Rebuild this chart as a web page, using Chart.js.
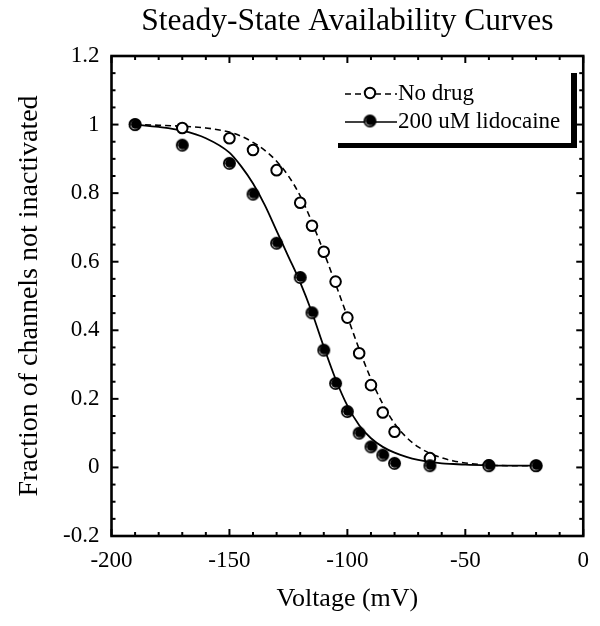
<!DOCTYPE html>
<html>
<head>
<meta charset="utf-8">
<title>Steady-State Availability Curves</title>
<script src="https://cdn.jsdelivr.net/npm/chart.js@4.4.1/dist/chart.umd.min.js"></script>
<style>
  html, body { margin: 0; padding: 0; background: #fff; }
  #wrap { width: 600px; height: 626px; }
</style>
</head>
<body>
<div id="wrap"><canvas id="availChart" width="600" height="626"></canvas></div>
<script>
// measured points (voltage in mV)
const pointVoltages = [-190, -170, -150, -140, -130, -120, -115, -110, -105, -100, -95, -90, -85, -80, -65, -40, -20];
const noDrugValues = [1.0, 0.99, 0.96, 0.926, 0.867, 0.772, 0.705, 0.629, 0.542, 0.437, 0.333, 0.24, 0.16, 0.104, 0.027, 0.006, 0.005];
const lidocaineValues = [1.0, 0.94, 0.887, 0.797, 0.654, 0.554, 0.451, 0.342, 0.245, 0.163, 0.1, 0.06, 0.036, 0.012, 0.005, 0.005, 0.005];

// fitted curves
const fitVoltages = [-190, -180, -170, -160, -150, -145, -140, -135, -130, -125, -120, -115, -110, -105, -100, -95, -90, -85, -80, -75, -70, -65, -60, -55, -50, -40, -30, -20];
const noDrugFit = [1.0, 0.998, 0.995, 0.99, 0.978, 0.966, 0.948, 0.925, 0.893, 0.85, 0.792, 0.715, 0.628, 0.535, 0.44, 0.345, 0.258, 0.185, 0.128, 0.088, 0.06, 0.041, 0.028, 0.019, 0.013, 0.007, 0.005, 0.005];
const lidocaineFit = [1.0, 0.993, 0.982, 0.96, 0.918, 0.878, 0.828, 0.765, 0.69, 0.615, 0.54, 0.452, 0.352, 0.258, 0.18, 0.123, 0.085, 0.06, 0.043, 0.031, 0.022, 0.016, 0.012, 0.01, 0.008, 0.006, 0.005, 0.005];

const xTickLabels = ["-200", "-150", "-100", "-50", "0"];
const yTickLabels = ["-0.2", "0", "0.2", "0.4", "0.6", "0.8", "1", "1.2"];
const seriesLabels = ["No drug", "200 uM lidocaine"];
const chartTitle = "Steady-State Availability Curves";

const serif = "'Liberation Serif', 'Times New Roman', serif";

function toXY(xs, ys) {
  return xs.map((v, i) => ({ x: v, y: ys[i] }));
}

// black "ball" marker with a thin white crescent
function makeBallMarker() {
  const c = document.createElement("canvas");
  c.width = 15;
  c.height = 15;
  const g = c.getContext("2d");
  g.fillStyle = "#000";
  g.beginPath(); g.arc(7.5, 7.5, 6.5, 0, Math.PI * 2); g.fill();
  g.fillStyle = "#fff";
  g.beginPath(); g.arc(7.1, 7.9, 4.3, 0, Math.PI * 2); g.fill();
  g.fillStyle = "#000";
  g.beginPath(); g.arc(7.8, 7.2, 4.6, 0, Math.PI * 2); g.fill();
  return c;
}
const ballMarker = makeBallMarker();

function strokeLine(ctx, x1, y1, x2, y2) {
  ctx.beginPath();
  ctx.moveTo(x1, y1);
  ctx.lineTo(x2, y2);
  ctx.stroke();
}

const frameAndLegend = {
  id: "frameAndLegend",
  afterDatasetsDraw(chart) {
    const { ctx, chartArea: a, scales } = chart;
    const xs = scales.x;
    const ys = scales.y;
    ctx.save();
    ctx.strokeStyle = "#000";
    ctx.lineWidth = 2;

    // ticks on all four sides, pointing inwards
    for (let i = 0; i <= 20; i++) {
      const px = xs.getPixelForValue(xs.min + i * 10);
      const len = i % 5 === 0 ? 7 : 4;
      strokeLine(ctx, px, a.bottom, px, a.bottom - len);
      strokeLine(ctx, px, a.top, px, a.top + len);
    }
    for (let i = 0; i <= 28; i++) {
      const py = ys.getPixelForValue(ys.min + i * 0.05);
      const len = i % 4 === 0 ? 7 : 4;
      strokeLine(ctx, a.left, py, a.left + len, py);
      strokeLine(ctx, a.right, py, a.right - len, py);
    }
    ctx.lineWidth = 2.6;
    ctx.strokeRect(a.left, a.top, a.right - a.left, a.bottom - a.top);

    // title, centred over the plot
    ctx.fillStyle = "#000";
    ctx.font = "31.5px " + serif;
    ctx.textAlign = "center";
    ctx.textBaseline = "middle";
    ctx.fillText(chartTitle, (a.left + a.right) / 2, 22);

    // legend box with drop shadow
    const bx = 332, by = 68, bw = 239, bh = 75;
    ctx.fillStyle = "#000";
    ctx.fillRect(bx + 6, by + 5, bw, bh);
    ctx.fillStyle = "#fff";
    ctx.fillRect(bx, by, bw, bh);

    const rows = [94, 122];
    ctx.font = "23px " + serif;
    ctx.textBaseline = "middle";
    ctx.textAlign = "left";
    rows.forEach((ry, i) => {
      ctx.strokeStyle = "#000";
      ctx.lineWidth = 1.6;
      ctx.setLineDash(i === 0 ? [6, 4] : []);
      strokeLine(ctx, 345, ry, 397, ry);
      ctx.setLineDash([]);
      if (i === 0) {
        ctx.fillStyle = "#fff";
        ctx.lineWidth = 2;
        ctx.beginPath(); ctx.arc(370, ry - 1, 5.2, 0, Math.PI * 2); ctx.fill(); ctx.stroke();
      } else {
        ctx.drawImage(ballMarker, 370 - 7.5, ry - 8.5);
      }
      ctx.fillStyle = "#000";
      ctx.fillText(seriesLabels[i], 398, ry);
    });
    ctx.restore();
  }
};

new Chart(document.getElementById("availChart"), {
  type: "line",
  data: {
    datasets: [
      {
        label: seriesLabels[1],
        data: toXY(pointVoltages, lidocaineValues),
        showLine: false,
        pointStyle: ballMarker,
        pointRadius: 7,
        order: 0
      },
      {
        label: seriesLabels[0],
        data: toXY(pointVoltages, noDrugValues),
        showLine: false,
        pointStyle: "circle",
        pointRadius: 5.3,
        pointBorderWidth: 2,
        pointBorderColor: "#000",
        pointBackgroundColor: "#fff",
        order: 1
      },
      {
        label: seriesLabels[1] + " fit",
        data: toXY(fitVoltages, lidocaineFit),
        borderColor: "#000",
        borderWidth: 1.8,
        pointRadius: 0,
        cubicInterpolationMode: "monotone",
        order: 2
      },
      {
        label: seriesLabels[0] + " fit",
        data: toXY(fitVoltages, noDrugFit),
        borderColor: "#000",
        borderWidth: 1.6,
        borderDash: [6, 4],
        pointRadius: 0,
        cubicInterpolationMode: "monotone",
        order: 3
      }
    ]
  },
  options: {
    responsive: false,
    animation: false,
    layout: { padding: { left: 0, right: 8, top: 56, bottom: 0 } },
    plugins: {
      legend: { display: false },
      tooltip: { enabled: false },
      title: { display: false }
    },
    scales: {
      x: {
        type: "linear",
        min: -200,
        max: 0,
        grid: { display: false, drawTicks: false },
        border: { display: false },
        ticks: {
          stepSize: 50,
          padding: 11,
          color: "#000",
          font: { family: serif, size: 23 },
          maxRotation: 0,
          callback: (v, i) => xTickLabels[i]
        },
        title: {
          display: true,
          text: "Voltage (mV)",
          color: "#000",
          font: { family: serif, size: 26 },
          padding: { top: 0, bottom: 11 }
        },
        afterFit: (scale) => { scale.height = 90; }
      },
      y: {
        type: "linear",
        min: -0.2,
        max: 1.2,
        grid: { display: false, drawTicks: false },
        border: { display: false },
        ticks: {
          stepSize: 0.2,
          padding: 12,
          color: "#000",
          font: { family: serif, size: 23 },
          callback: (v, i) => yTickLabels[i]
        },
        title: {
          display: true,
          text: "Fraction of channels not inactivated",
          color: "#000",
          font: { family: serif, size: 28 },
          padding: { top: 13, bottom: 0 }
        },
        afterFit: (scale) => { scale.width = 111.5; }
      }
    }
  },
  plugins: [frameAndLegend]
});
</script>
</body>
</html>
